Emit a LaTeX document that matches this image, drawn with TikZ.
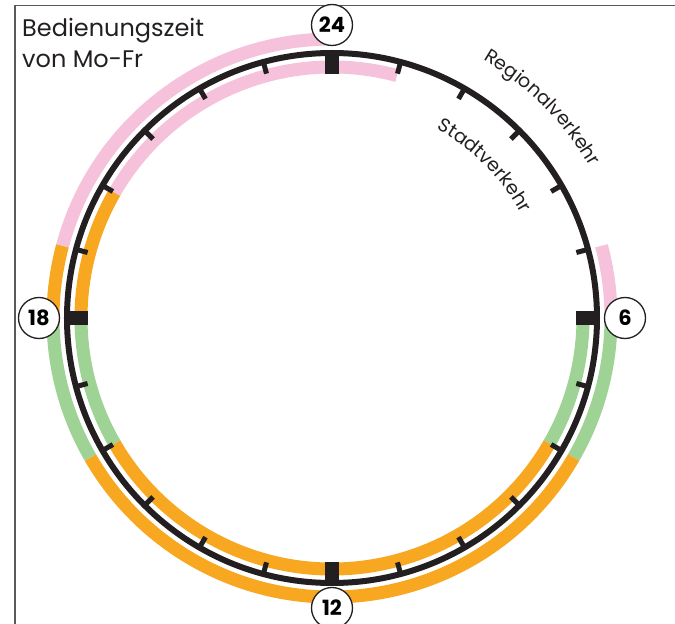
\documentclass[tikz,border=0pt]{standalone}
\usepackage{fontspec}
\setmainfont{Poppins}
\usetikzlibrary{decorations.text}
\definecolor{ringblack}{HTML}{231F20}
\definecolor{framegray}{HTML}{5A5A5A}
\definecolor{bandpink}{HTML}{F6C2DB}
\definecolor{bandorange}{HTML}{F8A721}
\definecolor{bandgreen}{HTML}{9FD295}
\tikzset{
	hourlab/.style={circle, draw=ringblack, line width=1.3pt, fill=white, minimum size=41pt, inner sep=0pt, font=\bfseries\fontsize{21}{21}\selectfont},
	titletext/.style={anchor=base west, inner sep=0pt, text=ringblack, font=\fontsize{24}{24}\selectfont}
}
\begin{document}
\begin{tikzpicture}[x=1pt, y=1pt, line cap=butt]
	\def\R{265} \def\Rout{279} \def\Rin{251} \def\Rlab{293}
	\useasboundingbox (-332,-306) rectangle (343,318);
	\draw[framegray, line width=1.5pt] (-317,-306)--(-317,312.5)--(343,312.5);
	\node[titletext] (title) at (-310,281) {Bedienungszeit};
	\node[titletext] (days) at (-310,250) {von Mo-Fr};
	% Regionalverkehr (aussen), Stadtverkehr (innen): von/bis Uhrzeit
	\foreach \a/\b/\c in {5/6/bandpink, 6/8/bandgreen, 8/16/bandorange, 16/18/bandgreen, 18/19/bandorange, 19/24/bandpink}
		\draw[\c, line width=13pt] ({90-15*\a}:\Rout) arc[start angle={90-15*\a}, end angle={90-15*\b}, radius=\Rout];
	\foreach \a/\b/\c in {6/8/bandgreen, 8/16/bandorange, 16/18/bandgreen, 18/20/bandorange, 20/25/bandpink}
		\draw[\c, line width=13pt] ({90-15*\a}:\Rin) arc[start angle={90-15*\a}, end angle={90-15*\b}, radius=\Rin];
	% Zifferblatt
	\draw[ringblack, line width=6pt] (0,0) circle[radius=\R];
	\foreach \h in {1,...,24} \draw[ringblack, line width=5pt] ({90-15*\h}:253)--({90-15*\h}:\R);
	\foreach \h in {0,6,12,18} \draw[ringblack, line width=14pt] ({90-15*\h}:244)--({90-15*\h}:268);
	\path[decorate, decoration={text along path, text align=center, text={|\fontsize{19}{19}\selectfont\color{ringblack}|Regionalverkehr}}]
		(75:299) arc[start angle=75, end angle=15, radius=299];
	\path[decorate, decoration={text along path, text align=center, text={|\fontsize{19}{19}\selectfont\color{ringblack}|Stadtverkehr}}]
		(75:216) arc[start angle=75, end angle=15, radius=216];
	\foreach \h/\t/\r in {0/24/293, 6/6/293, 12/12/290, 18/18/293}
		\node[hourlab] (h\t) at ({90-15*\h}:\r) {\t};
\end{tikzpicture}
\end{document}
